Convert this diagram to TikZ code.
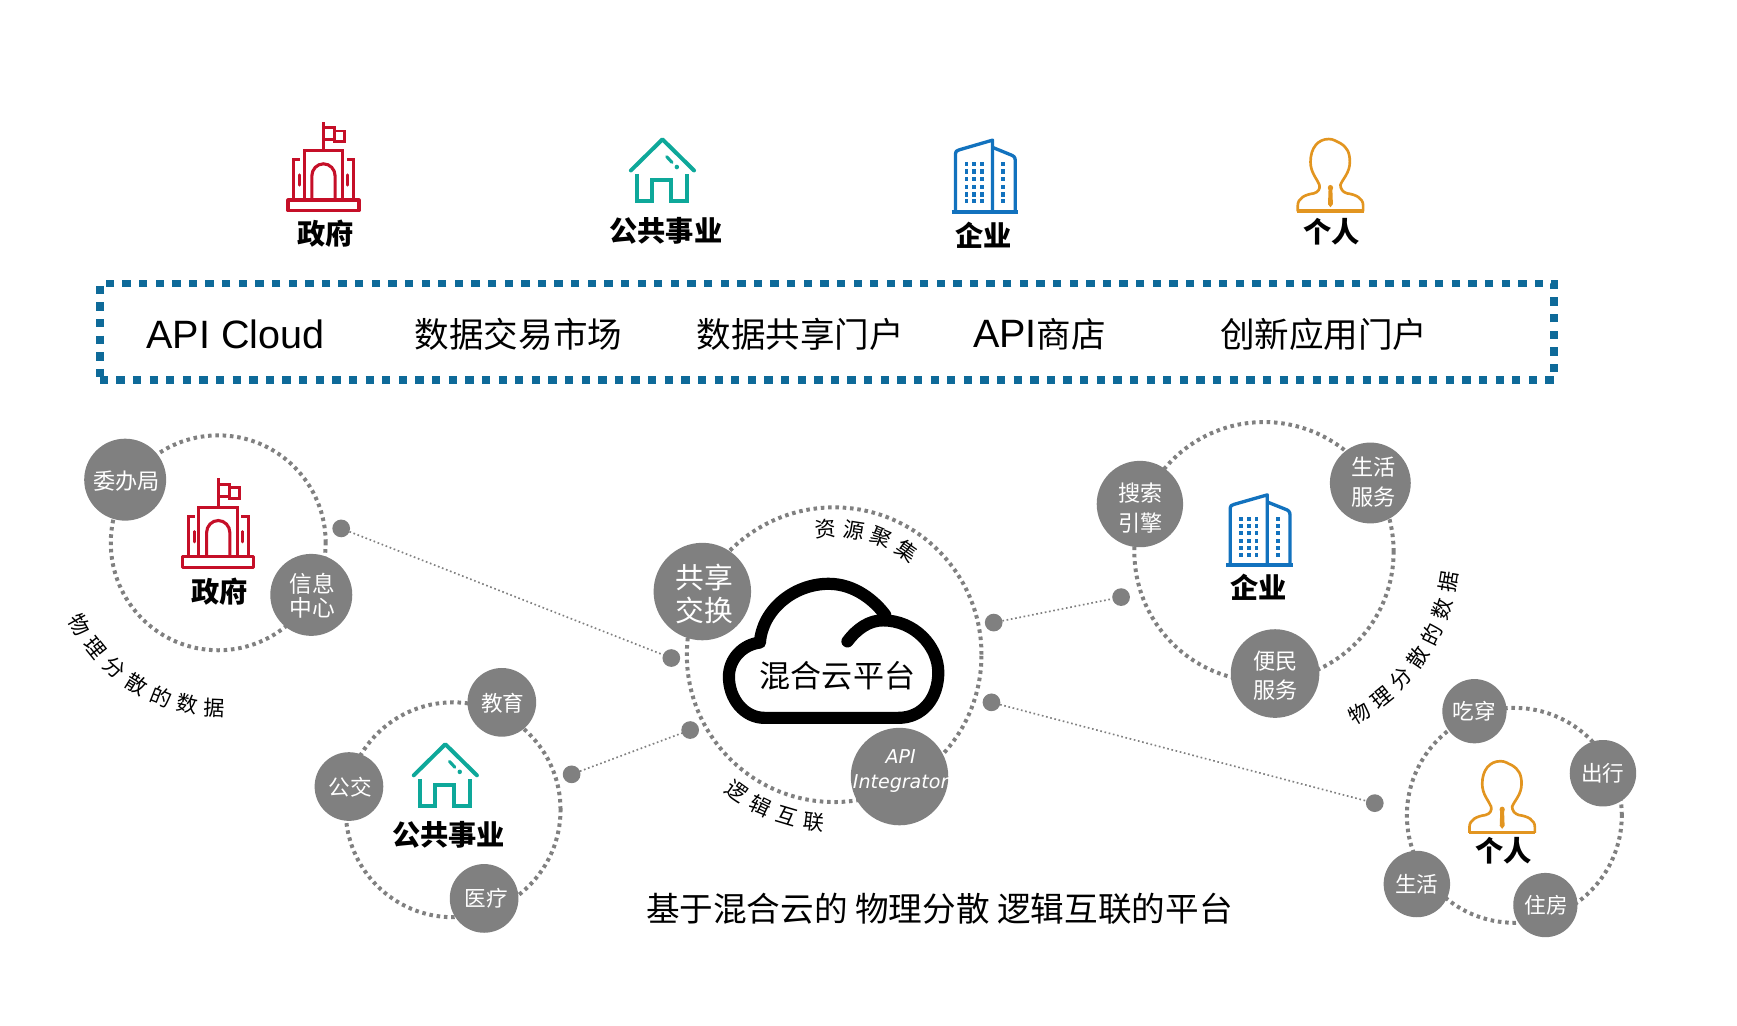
\documentclass[tikz,border=0pt]{standalone}
\usepackage{fontspec}
\setmainfont{Noto Sans CJK SC}
\newfontfamily\latinfont{Liberation Sans}
\newfontfamily\apifont{DejaVu Sans}
\usepackage{tikz}
\usetikzlibrary{calc}

\definecolor{ringgray}{HTML}{808080}
\definecolor{boxblue}{HTML}{0E6A99}
\definecolor{govred}{HTML}{C50F28}
\definecolor{hometeal}{HTML}{0EA89A}
\definecolor{bizblue}{HTML}{1272BE}
\definecolor{manorange}{HTML}{E29520}

\tikzset{
	govicon/.pic={
		\draw[govred, line width=3, line join=round] (-32,-9) rectangle (32,0);
		\draw[govred, line width=2.8] (-17.5,-9) -- (-17.5,-52) -- (17.5,-52) -- (17.5,-9);
		\draw[govred, line width=2.8] (-10.5,-9) -- (-10.5,-30) arc (180:360:10.5) -- (10.5,-9);
		\draw[govred, line width=2.6] (0,-52) -- (0,-77);
		\draw[govred, line width=2.6] (0,-72) -- (10,-72) -- (10,-61.5) -- (0,-61.5);
		\draw[govred, line width=2.6] (10,-69) -- (19,-69) -- (19,-60) -- (10,-60) -- (10,-62);
		\draw[govred, line width=2.8] (-27,-9) -- (-27,-44) -- (-21,-44);
		\draw[govred, line width=2.8] (27,-9) -- (27,-44) -- (21,-44);
		\draw[govred, line width=2.6, line cap=round] (-21.8,-31) -- (-21.8,-22);
		\draw[govred, line width=2.6, line cap=round] (21.8,-31) -- (21.8,-22);
	},
	homeicon/.pic={
		\draw[hometeal, line width=3.6, line cap=round, line join=round] (-28.5,-28) -- (0,-55) -- (28.5,-28);
		\draw[hometeal, line width=3.6] (-23,-25) -- (-23,-1.6) -- (-9,-1.6) -- (-9,-19.5) -- (8,-19.5) -- (8,-1.6) -- (22.5,-1.6) -- (22.5,-25);
		\draw[hometeal, line width=2.8, line cap=round] (3.8,-40) -- (8.6,-35);
		\fill[hometeal] (13,-31) circle (2);
	},
	bizicon/.pic={
		\draw[bizblue, line width=3.6] (-30,-1.7) -- (30,-1.7);
		\draw[bizblue, line width=3, line join=round] (-26.5,-2) -- (-26.5,-49) .. controls (-26.5,-52) and (-25,-52.5) .. (-23,-53) -- (7,-61) -- (7,-2);
		\draw[bizblue, line width=3, line join=round] (7,-55) -- (23,-49) .. controls (26,-48) and (27.5,-47) .. (27.5,-44) -- (27.5,-2);
		\foreach \winy in {41,35,29,22.5,16,10.5} {
			\foreach \winx in {-16.5,-9.6,-2.7,16.5} {
				\fill[bizblue] (\winx-1.7,-\winy-1.7) rectangle (\winx+1.7,-\winy+1.7);
			}
		}
	},
	manicon/.pic={
		\draw[manorange, line width=2.4] (-29.5,-1) -- (-29.5,-6) .. controls (-29.5,-12) and (-23,-15) .. (-15,-16) .. controls (-11,-17) and (-9,-20) .. (-10,-23) .. controls (-12,-28) and (-18,-33) .. (-18,-42) .. controls (-18,-54) and (-11,-61) .. (-1.5,-61) .. controls (3,-61) and (5,-59) .. (9,-57.5) .. controls (15,-54) and (17.5,-50) .. (17.5,-42) .. controls (17.5,-33) and (11,-28) .. (9,-23) .. controls (9,-20) and (11,-17) .. (15,-16) .. controls (23,-15) and (29.5,-12) .. (29.5,-6) -- (29.5,-1);
		\draw[manorange, line width=3] (-30,-1.5) -- (30,-1.5);
		\fill[manorange] (0,-20.6) circle (2.4);
		\fill[manorange] (-1.7,-20) -- (1.7,-20) -- (2.2,-7) -- (0,-4.5) -- (-2.2,-7) -- cycle;
	}
}

\begin{document}
\begin{tikzpicture}[x=1pt, y=1pt,
	ringnode/.style={circle, draw=ringgray, line width=3.6, dash pattern=on 3.2 off 3.4, inner sep=0, outer sep=0},
	satnode/.style={circle, fill=ringgray, inner sep=0, outer sep=0},
	sattext/.style 2 args={text=white, inner sep=0, align=center, font=\fontsize{#1}{#2}\selectfont},
	dotnode/.style={circle, fill=ringgray, inner sep=0, outer sep=0, minimum size=16},
	linkline/.style={ringgray, line width=1.5, dash pattern=on 1.5 off 2.4},
	toplabel/.style={font=\fontsize{25.5}{27}\selectfont\bfseries, inner sep=0},
	boxlabel/.style={font=\fontsize{31.2}{33}\selectfont, inner sep=0},
	arcchar/.style={font=\fontsize{19}{20}\selectfont, inner sep=0},
	flipicon/.style={yscale=-#1}]
	\useasboundingbox (0,0) rectangle (1568,-925.3);

	\pic[flipicon=1.04] at (292,-190) {govicon};
	\node[toplabel] (gov1) at (294,-211) {政府};
	\pic[flipicon=1.04] at (598,-183) {homeicon};
	\node[toplabel] (home1) at (601,-208) {公共事业};
	\pic[flipicon=1.09] at (889,-193) {bizicon};
	\node[toplabel] (biz1) at (888,-212) {企业};
	\pic[flipicon=1.09] at (1201,-192) {manicon};
	\node[toplabel] (man1) at (1202,-209) {个人};

	\node[draw=boxblue, line width=7, dash pattern=on 7.5 off 7.5, minimum width=1313, minimum height=87, inner sep=0, outer sep=0] (portal) at (746.5,-299.5) {};
	\node[boxlabel, font=\fontsize{35.7}{37}\selectfont\latinfont] (cloudapi) at (212.5,-302) {API Cloud};
	\node[boxlabel] (market) at (468,-302) {数据交易市场};
	\node[boxlabel] (share) at (722.5,-302) {数据共享门户};
	\node[boxlabel] (store) at (938.5,-302) {{\fontsize{35.7}{37}\selectfont\latinfont API}商店};
	\node[boxlabel] (app) at (1195,-302) {创新应用门户};

	% rings
	\node[ringnode, minimum size=194] (govring) at (197,-490) {};
	\node[ringnode, minimum size=194] (homering) at (409,-731) {};
	\node[ringnode, minimum size=266] (cenring) at (753,-591) {};
	\node[ringnode, minimum size=234] (bizring) at (1141,-498) {};
	\node[ringnode, minimum size=194] (manring) at (1367,-736) {};

	% dots and lines between rings
	\node[dotnode] (govdot) at (308,-477) {};
	\node[dotnode] (homedot) at (516,-699) {};
	\node[dotnode] (bizdot) at (1012,-539) {};
	\node[dotnode] (mandot) at (1241,-725) {};
	\node[dotnode] (cendot1) at (606,-594) {};
	\node[dotnode] (cendot2) at (623,-659) {};
	\node[dotnode] (cendot3) at (897,-562) {};
	\node[dotnode] (cendot4) at (895,-634) {};

	\draw[linkline] (govdot) -- (cendot1);
	\draw[linkline] (homedot) -- (cendot2);
	\draw[linkline] (cendot3) -- (bizdot);
	\draw[linkline] (cendot4) -- (mandot);

	% government
	\node[satnode, minimum size=74] (wei) at (113,-433) {};
	\node[sattext={20}{22}] (weit) at ($(wei)+(1,-1)$) {委办局};
	\node[satnode, minimum size=74] (xinxi) at (281,-537) {};
	\node[sattext={20.5}{22}] (xinxit) at ($(xinxi)+(1,-1)$) {信息\\中心};
	\pic[flipicon=1.04] at (197,-512) {govicon};
	\node[toplabel] (gov2) at (198,-534) {政府};

	% public service
	\node[satnode, minimum size=62] (edu) at (453,-634) {};
	\node[sattext={19.5}{21}] (edut) at ($(edu)+(1,-1)$) {教育};
	\node[satnode, minimum size=62] (bus) at (315,-710) {};
	\node[sattext={19.5}{21}] (bust) at ($(bus)+(1,-1)$) {公交};
	\node[satnode, minimum size=62] (med) at (437,-811) {};
	\node[sattext={19.5}{21}] (medt) at ($(med)+(2,0)$) {医疗};
	\pic[flipicon=1.04] at (402,-729) {homeicon};
	\node[toplabel] (home2) at (405,-754) {公共事业};

	% centre
	\draw[line width=11, line cap=round, line join=round] (765,-579) .. controls (774,-567) and (785,-560) .. (797,-560) .. controls (825,-560) and (847,-583) .. (847,-607) .. controls (847,-630) and (833,-648) .. (811,-648) -- (690,-648) .. controls (672,-648) and (658,-631) .. (658,-611) .. controls (658,-595) and (670,-582) .. (686,-580) .. controls (688,-551) and (716,-527) .. (748,-527) .. controls (772,-527) and (790,-543) .. (799,-555);
	\node[inner sep=0, font=\fontsize{28}{30}\selectfont] (hybrid) at (756,-610) {混合云平台};
	\node[satnode, minimum size=88] (swap) at (634,-534) {};
	\node[sattext={26}{30}] (swapt) at ($(swap)+(2,-2)$) {共享\\交换};
	\node[satnode, minimum size=88] (integ) at (812,-701) {};
	\node[sattext={17.2}{22}] (integt) at ($(integ)+(1,5)$) {\apifont\itshape API\\\apifont\itshape Integrator};

	% enterprise
	\node[satnode, minimum size=78] (search) at (1029,-455) {};
	\node[sattext={20}{27}] (searcht) at ($(search)+(0.5,-4)$) {搜索\\引擎};
	\node[satnode, minimum size=73] (life1) at (1237,-436) {};
	\node[sattext={20}{27}] (life1t) at ($(life1)+(3,1)$) {生活\\服务};
	\node[satnode, minimum size=80] (civil) at (1151,-608) {};
	\node[sattext={20}{26}] (civilt) at ($(civil)+(0.5,-2)$) {便民\\服务};
	\pic[flipicon=1.07] at (1137,-512) {bizicon};
	\node[toplabel] (biz2) at (1136,-530) {企业};

	% person
	\node[satnode, minimum size=58] (wear) at (1331,-642) {};
	\node[sattext={19.5}{21}] (weart) at (wear) {吃穿};
	\node[satnode, minimum size=60] (trip) at (1447,-698) {};
	\node[sattext={19.5}{21}] (tript) at (trip) {出行};
	\node[satnode, minimum size=60] (life2) at (1279,-798) {};
	\node[sattext={19.5}{21}] (life2t) at (life2) {生活};
	\node[satnode, minimum size=58] (house) at (1395,-817) {};
	\node[sattext={19.5}{21}] (houset) at ($(house)+(1,0)$) {住房};
	\pic[flipicon=1.08] at (1356,-753) {manicon};
	\node[toplabel] (man2) at (1357,-768) {个人};

	% text on arcs
	\foreach \ch [count=\i, evaluate=\i as \ang using 209+(\i-1)*9.8] in {物,理,分,散,的,数,据} {
		\node[arcchar, rotate=\ang+90] (arcgov\i) at ($(govring.center)+(2.5,-3)+(\ang:146)$) {\ch};
	}
	\foreach \ch [count=\i, evaluate=\i as \ang using 94-(\i-1)*13] in {资,源,聚,集} {
		\node[arcchar, rotate=\ang-90] (arctop\i) at ($(cenring.center)+(\ang:114)$) {\ch};
	}
	\foreach \ch [count=\i, evaluate=\i as \ang using 234.5+(\i-1)*9.5] in {逻,辑,互,联} {
		\node[arcchar, rotate=\ang+90] (arclow\i) at ($(cenring.center)+(\ang:152)$) {\ch};
	}
	\foreach \ch [count=\i, evaluate=\i as \ang using -59.5+(\i-1)*8.35] in {物,理,分,散,的,数,据} {
		\node[arcchar, rotate=\ang+90] (arcbiz\i) at ($(bizring.center)+(\ang:169)$) {\ch};
	}

	\node[inner sep=0, font=\fontsize{30.35}{32}\selectfont] (title) at (848,-820) {基于混合云的 物理分散 逻辑互联的平台};
\end{tikzpicture}
\end{document}
